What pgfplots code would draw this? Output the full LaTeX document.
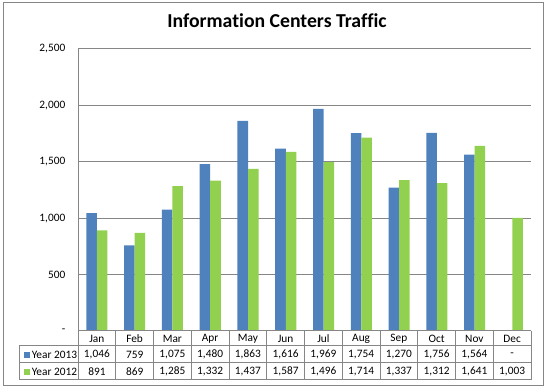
\documentclass[border=0pt]{standalone}
\usepackage{pgfplots}
\pgfplotsset{compat=1.18}
\usepackage{fontspec}
\setmainfont{Carlito}[Ligatures=NoCommon]
\definecolor{b13}{HTML}{4F81BD}
\definecolor{g12}{HTML}{92D050}
\definecolor{gr}{HTML}{868686}
\begin{document}
\begin{tikzpicture}[x=0.75pt,y=0.75pt]
\useasboundingbox (0,0) rectangle (546,388);
\draw[gr, line width=0.75pt] (3,2) rectangle (543,385);
\node[font=\fontsize{14.8pt}{17pt}\selectfont\bfseries] at (277,367) {Information Centers Traffic};
\begin{axis}[
  at={(58.5pt,42.75pt)}, anchor=south west,
  scale only axis, width=340pt, height=211.5pt,
  xmin=-0.5, xmax=11.5, ymin=0, ymax=2500,
  ybar=0pt, bar width=7.9pt,
  ytick={0,500,1000,1500,2000,2500},
  yticklabels={{-\hspace{3pt}},500,{1,000},{1,500},{2,000},{2,500}},
  xtick=\empty,
  ymajorgrids, grid style={gr, line width=0.75pt},
  axis line style={draw=none},
  tick style={draw=none},
  major tick length=0pt,
  yticklabel style={font=\fontsize{8.5pt}{10pt}\selectfont, anchor=east, xshift=-6pt},
  /pgf/number format/assume math mode=true,
  clip=false,
]
\addplot[fill=b13, draw=none] coordinates {
(0,1046) (1,759) (2,1075) (3,1480) (4,1863) (5,1616) (6,1969) (7,1754) (8,1270) (9,1756) (10,1564)};
\addplot[fill=g12, draw=none] coordinates {
(0,891) (1,869) (2,1285) (3,1332) (4,1437) (5,1587) (6,1496) (7,1714) (8,1337) (9,1312) (10,1641) (11,1003)};
\draw[gr, line width=0.75pt] (rel axis cs:0,0) -- (rel axis cs:0,1);
\end{axis}
% data table
\begin{scope}[gr, line width=0.75pt]
\foreach \k in {0,...,12} \draw ({78+\k*37.75},57) -- ({78+\k*37.75},8);
\draw (78,57) -- (531,57);
\draw (19,42) -- (531,42);
\draw (19,25) -- (531,25);
\draw (19,8) -- (531,8);
\draw (19,42) -- (19,8);
\end{scope}
\begin{scope}[font=\fontsize{8.5pt}{10pt}\selectfont]
\foreach \m [count=\i from 0] in {Jan,Feb,Mar,Apr,May,Jun,Jul,Aug,Sep,Oct,Nov,Dec}
  \node at ({78+(\i+0.5)*37.75},49.5) {\m};
\foreach \v [count=\i from 0] in {{1,046},{759},{1,075},{1,480},{1,863},{1,616},{1,969},{1,754},{1,270},{1,756},{1,564},{-}}
  \node at ({78+(\i+0.5)*37.75},33.5) {\v};
\foreach \v [count=\i from 0] in {{891},{869},{1,285},{1,332},{1,437},{1,587},{1,496},{1,714},{1,337},{1,312},{1,641},{1,003}}
  \node at ({78+(\i+0.5)*37.75},16.5) {\v};
\fill[b13] (24,30) rectangle (30,36);
\fill[g12] (24,13) rectangle (30,19);
\node[anchor=west, inner sep=0pt] at (31.5,33.5) {Year 2013};
\node[anchor=west, inner sep=0pt] at (31.5,16.5) {Year 2012};
\end{scope}
\end{tikzpicture}
\end{document}
